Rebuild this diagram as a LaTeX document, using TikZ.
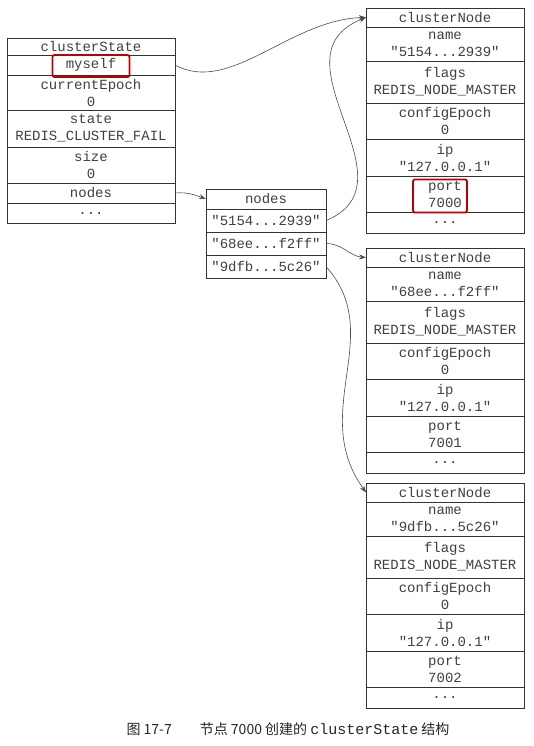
\documentclass[tikz,border=0pt]{standalone}
\usepackage{fontspec}
\setmonofont{Liberation Mono}
\newfontfamily\cjk{Noto Sans CJK SC}
\usetikzlibrary{positioning,arrows.meta}

\begin{document}
\begin{tikzpicture}[x=1pt,y=-1pt, draw=black!80]
	\def \headht{19pt}
	\def \onerow{20pt}
	\def \tworow{36pt}
	\tikzstyle{field}=[draw,line width=0.9pt,outer sep=0pt,inner sep=0pt,align=center,text=black!75,font=\ttfamily\fontsize{14}{17}\selectfont]
	\tikzstyle{statebox}=[field,minimum width=168pt]
	\tikzstyle{dictbox}=[field,minimum width=120pt]
	\tikzstyle{nodebox}=[field,minimum width=158pt]
	\tikzstyle{hilite}=[draw=red!75!black,line width=1.8pt,rounded corners=2pt]
	\tikzstyle{link}=[-{Stealth[length=7pt,width=5pt]},line width=0.6pt,draw=black!70]
	\useasboundingbox[fill=white] (0,0) rectangle (533,746);

	% clusterState
	\node[statebox,minimum height=17pt,anchor=north] 	(st0)	at (91,38)	{clusterState};
	\node[statebox,minimum height=\onerow,below=0pt of st0] 	(st1)	{myself};
	\node[statebox,minimum height=35pt,below=0pt of st1] 	(st2)	{currentEpoch\\0};
	\node[statebox,minimum height=37pt,below=0pt of st2] 	(st3)	{state\\REDIS\_CLUSTER\_FAIL};
	\node[statebox,minimum height=\tworow,below=0pt of st3] 	(st4)	{size\\0};
	\node[statebox,minimum height=\onerow,below=0pt of st4] 	(st5)	{nodes};
	\node[statebox,minimum height=\onerow,below=0pt of st5] 	(st6)	{...};

	% nodes dictionary
	\node[dictbox,minimum height=\onerow,anchor=north] 	(d0)	at (266,189)	{nodes};
	\node[dictbox,minimum height=23pt,below=0pt of d0] 	(d1)	{"5154...2939"};
	\node[dictbox,minimum height=23pt,below=0pt of d1] 	(d2)	{"68ee...f2ff"};
	\node[dictbox,minimum height=23pt,below=0pt of d2] 	(d3)	{"9dfb...5c26"};

	% clusterNode 7000
	\node[nodebox,minimum height=\headht,anchor=north] 	(a0)	at (445,8)	{clusterNode};
	\node[nodebox,minimum height=34pt,below=0pt of a0] 	(a1)	{name\\"5154...2939"};
	\node[nodebox,minimum height=42pt,below=0pt of a1] 	(a2)	{flags\\REDIS\_NODE\_MASTER};
	\node[nodebox,minimum height=\tworow,below=0pt of a2] 	(a3)	{configEpoch\\0};
	\node[nodebox,minimum height=37pt,below=0pt of a3] 	(a4)	{ip\\"127.0.0.1"};
	\node[nodebox,minimum height=\tworow,below=0pt of a4] 	(a5)	{port\\7000};
	\node[nodebox,minimum height=21pt,below=0pt of a5] 	(a6)	{...};

	% clusterNode 7001
	\node[nodebox,minimum height=\headht,anchor=north] 	(b0)	at (445,248)	{clusterNode};
	\node[nodebox,minimum height=34pt,below=0pt of b0] 	(b1)	{name\\"68ee...f2ff"};
	\node[nodebox,minimum height=42pt,below=0pt of b1] 	(b2)	{flags\\REDIS\_NODE\_MASTER};
	\node[nodebox,minimum height=\tworow,below=0pt of b2] 	(b3)	{configEpoch\\0};
	\node[nodebox,minimum height=37pt,below=0pt of b3] 	(b4)	{ip\\"127.0.0.1"};
	\node[nodebox,minimum height=\tworow,below=0pt of b4] 	(b5)	{port\\7001};
	\node[nodebox,minimum height=21pt,below=0pt of b5] 	(b6)	{...};

	% clusterNode 7002
	\node[nodebox,minimum height=\headht,anchor=north] 	(c0)	at (445,483)	{clusterNode};
	\node[nodebox,minimum height=34pt,below=0pt of c0] 	(c1)	{name\\"9dfb...5c26"};
	\node[nodebox,minimum height=42pt,below=0pt of c1] 	(c2)	{flags\\REDIS\_NODE\_MASTER};
	\node[nodebox,minimum height=\tworow,below=0pt of c2] 	(c3)	{configEpoch\\0};
	\node[nodebox,minimum height=37pt,below=0pt of c3] 	(c4)	{ip\\"127.0.0.1"};
	\node[nodebox,minimum height=\tworow,below=0pt of c4] 	(c5)	{port\\7002};
	\node[nodebox,minimum height=21pt,below=0pt of c5] 	(c6)	{...};

	% red marks
	\node[hilite,minimum width=77pt,minimum height=22pt] 	(selfmark)	at ([yshift=-1pt]st1.center)	{};
	\node[hilite,minimum width=54pt,minimum height=33pt] 	(portmark)	at ([shift={(-5,2)}]a5.center)	{};

	% pointers
	\draw[link] (st1.east) .. controls +(55,30) and +(-76,2) .. (a0.west);
	\draw[link] (st5.east) to[out=5,in=160] (d0.west);
	\draw[link] (d1.east) .. controls +(93,-38) and +(-98,39) .. (a0.west);
	\draw[link] (d2.east) to[out=0,in=175] (b0.west);
	\draw[link] (d3.east) .. controls +(61,68) and +(-58,-81) .. (c0.west);

	% caption
	\node[font=\fontsize{14}{16}\selectfont,text=black!85] 	(caption)	at (288,729)
		{\cjk 图 17-7\hspace{2em}节点 7000 创建的 {\ttfamily\fontsize{15}{16}\selectfont clusterState} 结构};
\end{tikzpicture}
\end{document}
